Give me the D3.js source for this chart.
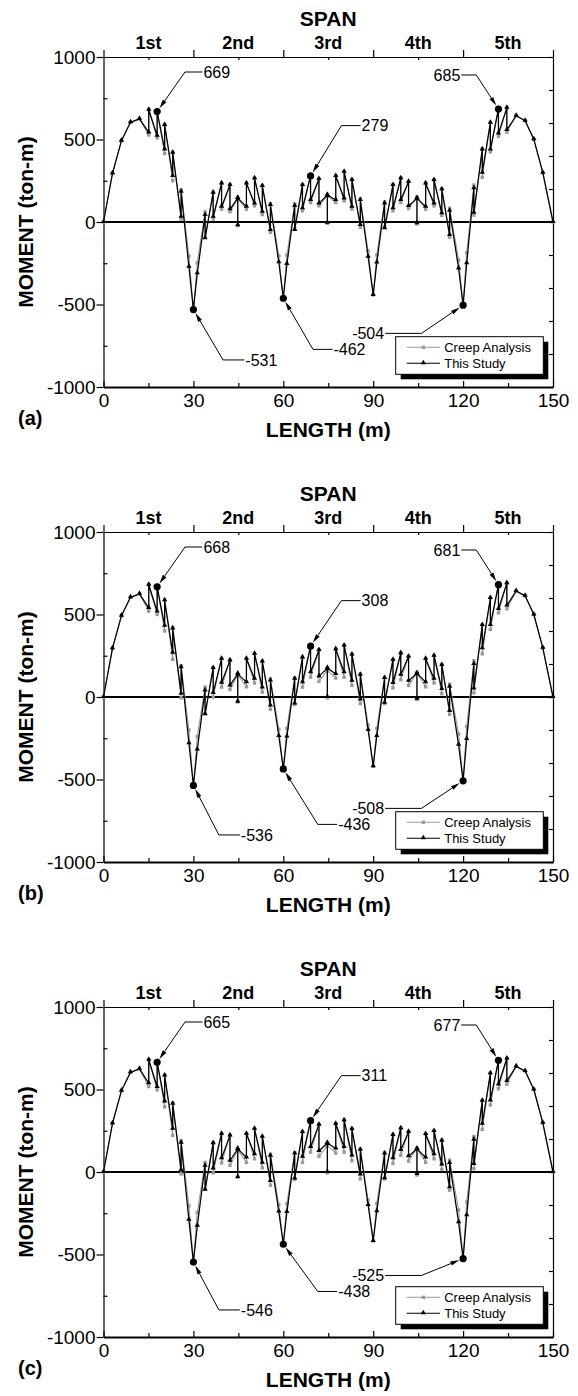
<!DOCTYPE html>
<html>
<head>
<meta charset="utf-8">
<script src="https://cdn.jsdelivr.net/npm/d3@7"></script>
<style>
  body { margin: 0; background: #fff; }
  svg text { font-family: "Liberation Sans", Arial, sans-serif; fill: #000; }
  .axis path, .axis line { stroke: #000; stroke-width: 1.2; }
</style>
</head>
<body>
<svg id="chart" width="578" height="1396"></svg>
<script>
// stations along the girder (m); repeated x = step at a segment joint
const xs = [
  0, 3, 6, 9, 12, 15.1, 15.1, 17.9, 17.9, 20.4, 20.4, 23.1, 23.1, 25.9, 25.9, 28.5, 30, 31.3,
  33.9, 33.9, 36.6, 36.6, 39.4, 39.4, 42.2, 42.2, 44.8, 44.8, 44.8, 47.7, 47.7, 50.4, 50.4, 53.0, 53.0, 55.7, 55.7, 58.5, 60, 61.2,
  63.8, 63.8, 66.4, 66.4, 69.1, 69.1, 71.9, 71.9, 74.7, 74.7, 74.7, 77.5, 77.5, 80.3, 80.3, 82.9, 82.9, 85.7, 85.7, 88.3, 90, 91.2,
  93.8, 93.8, 96.6, 96.6, 99.2, 99.2, 101.8, 101.8, 104.6, 104.6, 104.6, 107.5, 107.5, 110.3, 110.3, 112.9, 112.9, 115.5, 115.5, 118.5, 120, 121.2,
  123.6, 123.6, 126.4, 126.4, 129.1, 129.1, 131.8, 131.8, 134.6, 134.6, 137.7, 140.7, 143.6, 146.6, 150
];

// (a)
const studyA = [
  0, 295, 493, 604, 625, 543, 680, 523, 669, 440, 588, 279, 420, 32, 184, -271, -531, -311,
  42, -99, 178, 32, 234, 93, 224, 77, 145, -20, 145, 93, 234, 113, 265, 62, 218, -48, 103, -244, -462, -255,
  97, -48, 224, 83, 279, 133, 261, 113, 164, -5, 164, 133, 279, 143, 305, 93, 255, -18, 133, -210, -442, -246,
  113, -38, 224, 83, 265, 133, 244, 97, 143, -8, 143, 93, 234, 113, 254, 53, 198, -79, 68, -281, -504, -250,
  204, 56, 440, 299, 602, 440, 685, 537, 692, 558, 644, 614, 501, 299, 0
];
const creepA = [
  0, 295, 493, 604, 625, 528, 680, 510, 669, 415, 590, 250, 425, 18, 195, -206, -531, -247,
  62, -92, 180, 18, 236, 78, 226, 62, 140, -22, 140, 78, 236, 98, 266, 45, 222, -62, 112, -206, -462, -200,
  110, -42, 226, 68, 281, 118, 263, 98, 158, -8, 158, 118, 281, 128, 306, 78, 258, -32, 140, -175, -442, -200,
  122, -30, 226, 68, 266, 118, 246, 82, 150, -12, 150, 78, 236, 98, 256, 40, 200, -92, 83, -230, -504, -186,
  224, 42, 442, 271, 604, 425, 685, 520, 692, 545, 644, 614, 501, 299, 0
];

// (b)
const studyB = [
  0, 295, 493, 604, 625, 540, 680, 518, 668, 432, 586, 268, 416, 20, 180, -280, -536, -318,
  40, -105, 176, 25, 232, 86, 222, 70, 140, -28, 140, 90, 232, 110, 262, 58, 215, -52, 100, -236, -436, -240,
  110, -40, 240, 90, 308, 150, 285, 125, 175, 0, 175, 140, 290, 150, 312, 98, 258, -15, 135, -200, -420, -236,
  115, -35, 226, 85, 266, 135, 245, 98, 143, -10, 143, 90, 232, 110, 250, 48, 194, -85, 62, -290, -508, -255,
  200, 52, 436, 295, 600, 436, 681, 533, 690, 555, 642, 613, 500, 298, 0
];
const creepB = [
  0, 295, 493, 604, 625, 520, 680, 500, 668, 400, 588, 228, 420, -5, 190, -200, -536, -240,
  60, -100, 178, 0, 234, 60, 224, 45, 135, -30, 135, 62, 234, 85, 264, 30, 218, -75, 110, -195, -436, -190,
  115, -45, 240, 60, 308, 120, 285, 95, 160, -5, 160, 115, 290, 120, 312, 70, 258, -40, 140, -170, -420, -190,
  120, -40, 226, 55, 266, 105, 245, 70, 145, -15, 145, 62, 232, 85, 252, 20, 196, -105, 78, -225, -508, -180,
  220, 25, 438, 262, 602, 410, 681, 510, 690, 535, 642, 613, 500, 298, 0
];

// (c)
const studyC = [
  0, 295, 493, 604, 625, 538, 680, 515, 665, 428, 585, 262, 414, 12, 178, -290, -546, -325,
  38, -108, 175, 22, 232, 84, 222, 68, 140, -30, 140, 88, 232, 108, 262, 56, 214, -55, 98, -240, -438, -242,
  112, -40, 242, 92, 311, 152, 287, 127, 176, 0, 176, 142, 292, 152, 314, 100, 260, -15, 135, -200, -418, -238,
  112, -38, 225, 84, 265, 133, 244, 96, 140, -12, 140, 88, 230, 108, 248, 45, 190, -92, 55, -305, -525, -262,
  196, 48, 432, 292, 598, 434, 677, 530, 688, 552, 640, 612, 500, 298, 0
];
const creepC = [
  0, 295, 493, 604, 625, 518, 680, 498, 665, 395, 588, 222, 418, -12, 188, -205, -546, -245,
  58, -104, 177, -5, 233, 55, 223, 40, 133, -32, 133, 58, 233, 80, 263, 25, 216, -80, 108, -198, -438, -192,
  117, -45, 242, 58, 311, 120, 287, 95, 160, -6, 160, 115, 292, 120, 314, 68, 260, -42, 140, -170, -418, -190,
  118, -42, 225, 52, 265, 102, 244, 66, 143, -18, 143, 58, 230, 80, 250, 15, 192, -110, 72, -230, -525, -182,
  215, 20, 434, 258, 600, 406, 677, 505, 688, 532, 640, 612, 500, 298, 0
];

// marked values: [x (m), moment]
const peaksA = [[17.9, 669], [131.8, 685], [69.1, 279], [30, -531], [60, -462], [120, -504]];
const peaksB = [[17.9, 668], [131.8, 681], [69.1, 308], [30, -536], [60, -436], [120, -508]];
const peaksC = [[17.9, 665], [131.8, 677], [69.1, 311], [30, -546], [60, -438], [120, -525]];

const spanNames = ["1st", "2nd", "3rd", "4th", "5th"];
const spanMid = [15, 45, 75, 105, 135];
const xTicks = [0, 30, 60, 90, 120, 150];
const yTicks = [-1000, -500, 0, 500, 1000];
const seriesNames = ["Creep Analysis", "This Study"];

// callout leader: elbow (x m, moment), end of horizontal stub (x m), text side
const leaderA = [[27.2, 909, 33.0, "start"], [124.4, 891, 119.4, "end"], [79.4, 584, 85.8, "start"],
                 [39.9, -836, 47.0, "start"], [69.9, -772, 76.4, "start"], [106.1, -675, 94.0, "end"]];
const leaderB = [[27.2, 909, 33.0, "start"], [124.4, 891, 119.4, "end"], [79.4, 584, 85.8, "start"],
                 [38.5, -836, 45.5, "start"], [71.5, -772, 78.0, "start"], [106.1, -675, 94.0, "end"]];
const leaderC = [[27.2, 909, 33.0, "start"], [124.4, 891, 119.4, "end"], [79.4, 584, 85.8, "start"],
                 [38.5, -836, 45.5, "start"], [71.5, -724, 78.0, "start"], [106.1, -627, 94.0, "end"]];

const svg = d3.select("#chart");
const fmt = d => String(d);

function drawPanel(top, study, creep, peaks, leaders, tag) {
  const height = 330;
  const x = d3.scaleLinear().domain([0, 150]).range([103.5, 553]);
  const y = d3.scaleLinear().domain([-1000, 1000]).range([top + height, top]);
  const bottom = top + height;
  const g = svg.append("g");

  // axes
  g.append("g").attr("class", "axis")
    .attr("transform", "translate(103.5,0)")
    .call(d3.axisLeft(y).tickValues(yTicks).tickSize(7).tickSizeOuter(0).tickPadding(1).tickFormat(fmt))
    .call(a => a.selectAll("text").style("font-size", "19px").attr("font-family", null));
  g.append("g").attr("class", "axis")
    .attr("transform", "translate(103.5,0)")
    .call(d3.axisLeft(y).tickValues([-750, -250, 250, 750]).tickSize(-4).tickSizeOuter(0).tickFormat(""))
    .call(a => a.select(".domain").remove());
  g.append("g").attr("class", "axis")
    .attr("transform", "translate(553,0)")
    .call(d3.axisRight(y).ticks(8).tickSize(-4).tickSizeOuter(0).tickFormat(""));
  g.append("g").attr("class", "axis")
    .attr("transform", `translate(0,${top})`)
    .call(d3.axisTop(x).tickValues(xTicks).tickSize(7).tickSizeOuter(0).tickFormat(""));
  g.append("g").attr("class", "axis")
    .attr("transform", `translate(0,${top})`)
    .call(d3.axisTop(x).tickValues(spanMid).tickSize(-3).tickSizeOuter(0).tickFormat(""))
    .call(a => a.select(".domain").remove());
  g.append("g").attr("class", "axis")
    .attr("transform", `translate(0,${bottom})`)
    .call(d3.axisBottom(x).tickValues(xTicks).tickSize(-6).tickSizeOuter(0).tickPadding(7).tickFormat(fmt))
    .call(a => a.select(".domain").style("stroke-width", 1.8))
    .call(a => a.selectAll("text").style("font-size", "19px").attr("font-family", null));
  g.append("g").attr("class", "axis")
    .attr("transform", `translate(0,${bottom})`)
    .call(d3.axisBottom(x).tickValues(spanMid).tickSize(-4).tickSizeOuter(0).tickFormat(""))
    .call(a => a.select(".domain").remove());

  // zero line
  g.append("line")
    .attr("x1", x(0)).attr("x2", x(150))
    .attr("y1", y(0)).attr("y2", y(0))
    .attr("stroke", "#000").attr("stroke-width", 1.8);

  // titles
  g.append("text").attr("x", x(75)).attr("y", top - 31)
    .attr("text-anchor", "middle").style("font-size", "21px").style("font-weight", "bold").text("SPAN");
  g.selectAll(".span-name").data(spanNames).join("text")
    .attr("class", "span-name")
    .attr("x", (d, i) => x(spanMid[i])).attr("y", top - 8)
    .attr("text-anchor", "middle").style("font-size", "18px").style("font-weight", "bold")
    .text(d => d);
  g.append("text")
    .attr("transform", `translate(33,${(top + bottom) / 2}) rotate(-90)`)
    .attr("text-anchor", "middle").style("font-size", "21px").style("font-weight", "bold")
    .text("MOMENT (ton-m)");
  g.append("text").attr("x", x(75)).attr("y", bottom + 50)
    .attr("text-anchor", "middle").style("font-size", "21px").style("font-weight", "bold")
    .text("LENGTH (m)");
  g.append("text").attr("x", 18).attr("y", bottom + 38)
    .style("font-size", "20px").style("font-weight", "bold").text(tag);

  // series
  const line = d3.line().x((d, i) => x(xs[i])).y(d => y(d));
  g.append("path").datum(creep).attr("d", line)
    .attr("fill", "none").attr("stroke", "#9a9a9a").attr("stroke-width", 1.1);
  g.selectAll(".creep-pt").data(creep).join("rect")
    .attr("class", "creep-pt")
    .attr("x", (d, i) => x(xs[i]) - 1.7).attr("y", d => y(d) - 1.7)
    .attr("width", 3.4).attr("height", 3.4).attr("fill", "#9a9a9a");
  g.append("path").datum(study).attr("d", line)
    .attr("fill", "none").attr("stroke", "#000").attr("stroke-width", 1.25)
    .attr("stroke-linejoin", "round");
  const tri = d3.symbol().type(d3.symbolTriangle).size(12);
  g.selectAll(".study-pt").data(study).join("path")
    .attr("class", "study-pt")
    .attr("transform", (d, i) => `translate(${x(xs[i])},${y(d) - 0.5})`)
    .attr("d", tri).attr("fill", "#000");

  // marked values with leaders
  peaks.forEach((p, i) => {
    const [lx, ly, hx, side] = leaders[i];
    const px = x(p[0]), py = y(p[1]);
    const ex = x(lx), ey = y(ly), tx = x(hx);
    const dx = px - ex, dy = py - ey, len = Math.hypot(dx, dy);
    const ux = dx / len, uy = dy / len;
    const tipX = px - ux * 4, tipY = py - uy * 4;
    const baseX = tipX - ux * 9, baseY = tipY - uy * 9;
    g.append("circle").attr("cx", px).attr("cy", py).attr("r", 3.6).attr("fill", "#000");
    g.append("polyline")
      .attr("points", `${tx},${ey} ${ex},${ey} ${baseX},${baseY}`)
      .attr("fill", "none").attr("stroke", "#000").attr("stroke-width", 1);
    g.append("polygon")
      .attr("points", `${tipX},${tipY} ${baseX - uy * 2.2},${baseY + ux * 2.2} ${baseX + uy * 2.2},${baseY - ux * 2.2}`)
      .attr("fill", "#000");
    g.append("text")
      .attr("x", side === "start" ? tx + 1 : tx - 1).attr("y", ey).attr("dy", "0.36em")
      .attr("text-anchor", side).style("font-size", "16px")
      .text(fmt(p[1]));
  });

  // legend
  const lg = g.append("g").attr("transform", `translate(395.7,${top + 279.7})`);
  lg.append("rect").attr("x", 5).attr("y", 5).attr("width", 147.6).attr("height", 37.6).attr("fill", "#000");
  lg.append("rect").attr("width", 147.6).attr("height", 37.6)
    .attr("fill", "#fff").attr("stroke", "#000").attr("stroke-width", 1);
  seriesNames.forEach((name, i) => {
    const ry = 10.6 + i * 16;
    const col = i === 0 ? "#9a9a9a" : "#000";
    lg.append("line").attr("x1", 11).attr("x2", 44.3).attr("y1", ry).attr("y2", ry)
      .attr("stroke", col).attr("stroke-width", 1.1);
    if (i === 0) {
      lg.append("rect").attr("x", 27.6 - 1.7).attr("y", ry - 1.7).attr("width", 3.4).attr("height", 3.4).attr("fill", col);
    } else {
      lg.append("path").attr("transform", `translate(27.6,${ry - 0.5})`).attr("d", tri).attr("fill", col);
    }
    lg.append("text").attr("x", 48.5).attr("y", ry).attr("dy", "0.36em")
      .style("font-size", "13px").text(name);
  });
}

drawPanel(57, studyA, creepA, peaksA, leaderA, "(a)");
drawPanel(532, studyB, creepB, peaksB, leaderB, "(b)");
drawPanel(1007, studyC, creepC, peaksC, leaderC, "(c)");
</script>
</body>
</html>
